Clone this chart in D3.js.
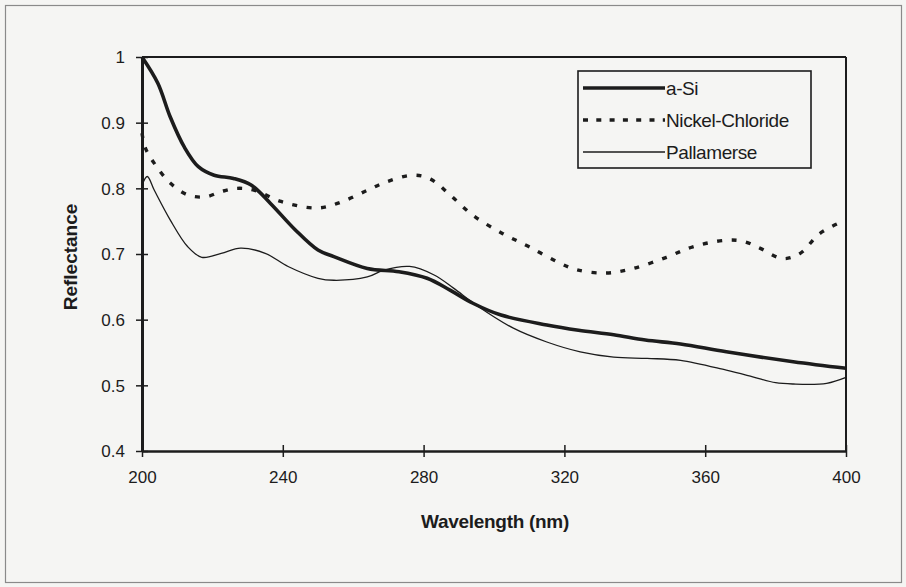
<!DOCTYPE html>
<html>
<head>
<meta charset="utf-8">
<script src="https://cdn.jsdelivr.net/npm/d3@7"></script>
<style>
  html, body { margin: 0; padding: 0; background: #f5f5f3; }
  svg { display: block; }
  text { font-family: "Liberation Sans", Arial, sans-serif; fill: #1c1c1c; }
</style>
</head>
<body>
<svg id="chart" width="906" height="587"></svg>
<script>
// ---- data ----
const seriesNames = ["a-Si", "Nickel-Chloride", "Pallamerse"];

const aSiWavelength = [200, 204.5, 208, 212, 216, 220.5, 226, 231, 236.5, 243.5, 250, 254.5, 264, 273, 281, 287.5, 294, 302, 315, 324, 334, 343, 353, 366, 385, 400];
const aSiReflectance = [1.0, 0.96, 0.909, 0.863, 0.833, 0.82, 0.815, 0.805, 0.777, 0.737, 0.706, 0.696, 0.678, 0.673, 0.663, 0.645, 0.625, 0.607, 0.592, 0.584, 0.577, 0.569, 0.563, 0.551, 0.536, 0.526];

const nickelWavelength = [200, 201, 203.5, 208, 213, 218, 222.5, 227, 232, 239.5, 250, 257, 264, 269.5, 277, 282, 287.5, 294, 302.5, 310, 318, 323.5, 332, 339.5, 349, 356.5, 366, 371, 375.5, 382, 387, 392.5, 400];
const nickelReflectance = [0.884, 0.861, 0.838, 0.808, 0.79, 0.787, 0.795, 0.80, 0.797, 0.78, 0.77, 0.78, 0.797, 0.81, 0.82, 0.814, 0.79, 0.759, 0.731, 0.711, 0.688, 0.676, 0.671, 0.678, 0.695, 0.711, 0.721, 0.719, 0.709, 0.693, 0.701, 0.731, 0.752];

const pallamerseWavelength = [200, 201.5, 203.5, 208, 213, 217, 222.5, 228, 235, 241.5, 250, 254.5, 264, 268.5, 276, 283, 288.5, 295, 305.5, 315, 324.5, 334, 343.5, 353, 366, 373.5, 380, 385, 394.5, 400];
const pallamerseReflectance = [0.805, 0.818, 0.797, 0.752, 0.711, 0.695, 0.701, 0.709, 0.701, 0.681, 0.663, 0.66, 0.665, 0.675, 0.681, 0.668, 0.648, 0.622, 0.587, 0.566, 0.551, 0.543, 0.541, 0.538, 0.523, 0.513, 0.504, 0.502, 0.503, 0.512];

const xTicks = [200, 240, 280, 320, 360, 400];
const yTicks = [0.4, 0.5, 0.6, 0.7, 0.8, 0.9, 1];
const xTitle = "Wavelength (nm)";
const yTitle = "Reflectance";

// ---- layout ----
const svg = d3.select("#chart");
const W = 906, H = 587;
const plot = { left: 142, right: 846, top: 57, bottom: 451 };
const ink = "#1c1c1c";

const x = d3.scaleLinear().domain([200, 400]).range([plot.left, plot.right]);
const y = d3.scaleLinear().domain([0.4, 1]).range([plot.bottom, plot.top]);

// outer frame
svg.append("rect").attr("x", 0).attr("y", 0).attr("width", W).attr("height", H).attr("fill", "#f5f5f3");
svg.append("rect").attr("x", 5.5).attr("y", 5.5).attr("width", 896).attr("height", 577)
  .attr("fill", "none").attr("stroke", "#8a8a8a").attr("stroke-width", 1.2);

// plot frame (top & right)
svg.append("line").attr("x1", plot.left).attr("x2", plot.right).attr("y1", plot.top).attr("y2", plot.top)
  .attr("stroke", ink).attr("stroke-width", 2);
svg.append("line").attr("x1", plot.right).attr("x2", plot.right).attr("y1", plot.top).attr("y2", plot.bottom)
  .attr("stroke", ink).attr("stroke-width", 2);

// axes
const xAxis = d3.axisBottom(x).tickValues(xTicks).tickSize(0).tickFormat(d3.format("d"));
const gx = svg.append("g").attr("transform", `translate(0,${plot.bottom})`).call(xAxis);
gx.select(".domain").attr("stroke", ink).attr("stroke-width", 2.6);
gx.selectAll(".tick text").attr("font-size", 17).attr("dy", 0).attr("y", 32).attr("fill", ink)
  .attr("font-family", "Liberation Sans, Arial, sans-serif");
gx.selectAll(".tick").append("line").attr("y1", -6).attr("y2", 6).attr("stroke", ink).attr("stroke-width", 1.5);

const yAxis = d3.axisLeft(y).tickValues(yTicks).tickSize(0).tickFormat(d => d === 1 ? "1" : d3.format(".1f")(d));
const gy = svg.append("g").attr("transform", `translate(${plot.left},0)`).call(yAxis);
gy.select(".domain").attr("stroke", ink).attr("stroke-width", 3);
gy.selectAll(".tick text").attr("font-size", 17).attr("x", -17).attr("dy", "0.35em").attr("fill", ink)
  .attr("font-family", "Liberation Sans, Arial, sans-serif");
gy.selectAll(".tick").append("line").attr("x1", -6).attr("x2", 6).attr("stroke", ink).attr("stroke-width", 1.5);

// axis titles
svg.append("text").attr("x", 495).attr("y", 528).attr("text-anchor", "middle")
  .attr("font-size", 19).attr("font-weight", "bold").attr("letter-spacing", -0.3).text(xTitle);
svg.append("text").attr("transform", "translate(77,257) rotate(-90)").attr("text-anchor", "middle")
  .attr("font-size", 19).attr("font-weight", "bold").text(yTitle);

// series
const series = [
  { name: seriesNames[0], wl: aSiWavelength, r: aSiReflectance, width: 3.6, dash: null },
  { name: seriesNames[1], wl: nickelWavelength, r: nickelReflectance, width: 3.4, dash: "5,9.5" },
  { name: seriesNames[2], wl: pallamerseWavelength, r: pallamerseReflectance, width: 1.3, dash: null }
];

const line = d3.line().x(d => x(d[0])).y(d => y(d[1])).curve(d3.curveCatmullRom.alpha(0.5));

svg.append("clipPath").attr("id", "plotclip").append("rect")
  .attr("x", plot.left - 2).attr("y", plot.top - 3).attr("width", plot.right - plot.left + 4).attr("height", plot.bottom - plot.top + 5);

const gLines = svg.append("g").attr("clip-path", "url(#plotclip)");
series.forEach(s => {
  const pts = s.wl.map((w, i) => [w, s.r[i]]);
  gLines.append("path").datum(pts).attr("d", line)
    .attr("fill", "none").attr("stroke", ink).attr("stroke-width", s.width)
    .attr("stroke-linejoin", "round")
    .attr("stroke-dasharray", s.dash);
});

// legend
const lg = { x: 578, y: 71, w: 233, h: 97 };
svg.append("rect").attr("x", lg.x).attr("y", lg.y).attr("width", lg.w).attr("height", lg.h)
  .attr("fill", "#f5f5f3").attr("stroke", ink).attr("stroke-width", 1.6);
series.forEach((s, i) => {
  const cy = lg.y + 17 + i * 32;
  svg.append("line").attr("x1", lg.x + 5).attr("x2", lg.x + 87).attr("y1", cy).attr("y2", cy)
    .attr("stroke", ink).attr("stroke-width", s.width).attr("stroke-dasharray", s.dash === null ? null : "5,8.3");
  svg.append("text").attr("x", lg.x + 88).attr("y", cy).attr("dy", "0.36em")
    .attr("font-size", 19).attr("letter-spacing", -0.4).text(s.name);
});
</script>
</body>
</html>
